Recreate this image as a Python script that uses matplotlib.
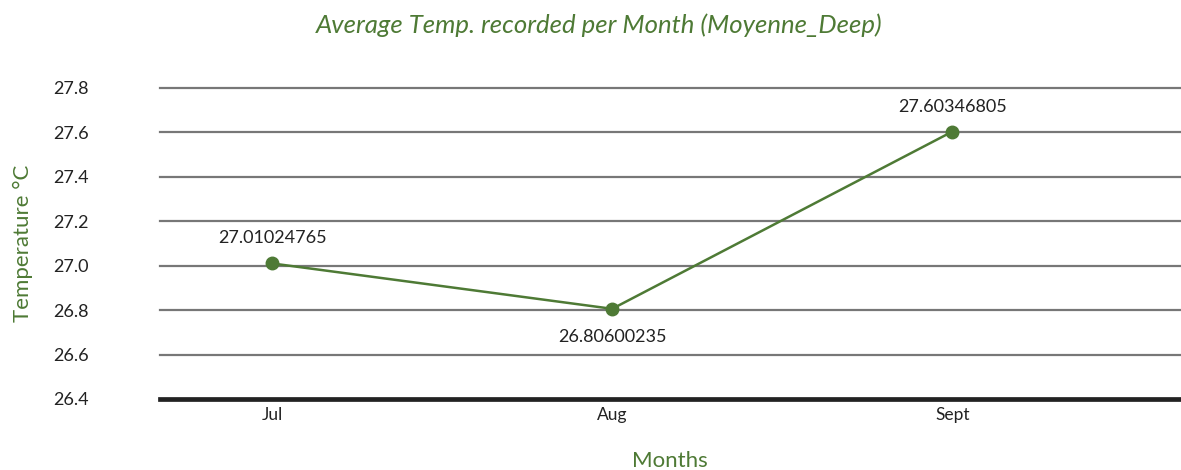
import matplotlib.pyplot as plt

plt.rcParams['font.family'] = ['Lato', 'DejaVu Sans']

GREEN = "#4e7a35"

months = ["Jul", "Aug", "Sept"]
temps = [27.01024765, 26.80600235, 27.60346805]
labels = ["27.01024765", "26.80600235", "27.60346805"]
label_offsets = [18, -20, 18]   # points, above / below
yticks = [26.4, 26.6, 26.8, 27.0, 27.2, 27.4, 27.6, 27.8]

fig = plt.figure(figsize=(11.81, 4.70), dpi=100)
ax = fig.add_axes([160 / 1181, 71 / 470, 1020 / 1181, 311 / 470])

x = list(range(len(months)))
for y in yticks[1:]:
    ax.axhline(y, color="#777777", linewidth=1.6, zorder=1, clip_on=False)
ax.axhline(yticks[0], color="#222222", linewidth=3.4, zorder=2, clip_on=False)

ax.plot(x, temps, color=GREEN, linewidth=1.8, marker="o", markersize=9, zorder=3)
for xi, t, lab, off in zip(x, temps, labels, label_offsets):
    ax.annotate(lab, (xi, t), textcoords="offset points", xytext=(0, off),
                ha="center", va="center", fontsize=13, color="#222222")

ax.set_xlim(-0.33, 2.67)
ax.set_ylim(26.4, 27.8)
ax.set_xticks(x)
ax.set_xticklabels(months, fontsize=12.5, color="#222222")
ax.set_yticks(yticks)
ax.set_yticklabels([f"{v:.1f}" for v in yticks], fontsize=13, color="#222222",
                   ha="left")
ax.tick_params(axis="y", length=0, pad=77)
ax.tick_params(axis="x", length=0, pad=6)
for s in ax.spines.values():
    s.set_visible(False)

ax.set_ylabel("Temperature \u00b0C", fontsize=16, color=GREEN)
ax.yaxis.set_label_coords(-127 / 1020, 0.5)
ax.set_xlabel("Months", fontsize=16, color=GREEN, labelpad=20)

fig.text(599 / 1181, 1 - 25 / 470, "Average Temp. recorded per Month (Moyenne_Deep)",
         ha="center", va="center", fontsize=18.5, style="italic", color=GREEN)

plt.savefig("out.png", dpi=100)
